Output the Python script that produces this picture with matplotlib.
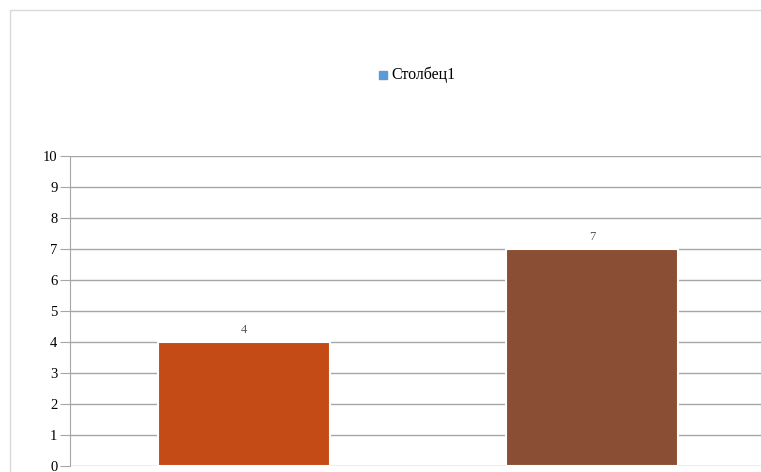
import matplotlib.pyplot as plt
from matplotlib.patches import Rectangle

# dati del grafico
categorie = ["A", "B"]
valori = [4, 7]
colori = ["#C54B16", "#8A4E35"]
nome_serie = "Столбец1"

plt.rcParams['font.family'] = ['Liberation Serif', 'DejaVu Serif']

fig = plt.figure(figsize=(7.61, 4.72), dpi=100)

# bordo dell'area del grafico (tagliato a destra e in basso)
fig.patches.append(Rectangle((10 / 761, -0.1), 1.2, (472 - 10) / 472 + 0.1,
                             transform=fig.transFigure, fill=False,
                             edgecolor="#D9D9D9", linewidth=1))

ax = fig.add_axes([70 / 761, 6 / 472, (766 - 70) / 761, (466 - 156) / 472])

posizioni = list(range(len(categorie)))
barre = ax.bar(posizioni, valori, width=0.494, color=colori,
               edgecolor="white", linewidth=1.5, zorder=3)

for b, v in zip(barre, valori):
    ax.text(b.get_x() + b.get_width() / 2, v + 0.2, str(v),
            ha="center", va="bottom", fontsize=9, color="#595959")

ax.set_xlim(-0.5, 1.5)
ax.set_ylim(0, 10)
ax.set_yticks(range(0, 11))
ax.yaxis.grid(True, color="#A6A6A6", linewidth=1, zorder=0)
ax.set_xticks([])

for lato in ["top", "right", "bottom"]:
    ax.spines[lato].set_visible(False)
ax.spines["left"].set_color("#A6A6A6")
ax.tick_params(axis="y", length=7, color="#A6A6A6", labelsize=10.5,
               labelcolor="black", pad=2)

# legenda in alto
fig.patches.append(Rectangle((379 / 761, 1 - 78.5 / 472), 8 / 761, 8 / 472,
                             transform=fig.transFigure, color="#5B9BD5"))
fig.text(391 / 761, 1 - 74.5 / 472, nome_serie, fontsize=11.5, va="center",
         ha="left", color="black")

fig.savefig("out.png", dpi=100)
